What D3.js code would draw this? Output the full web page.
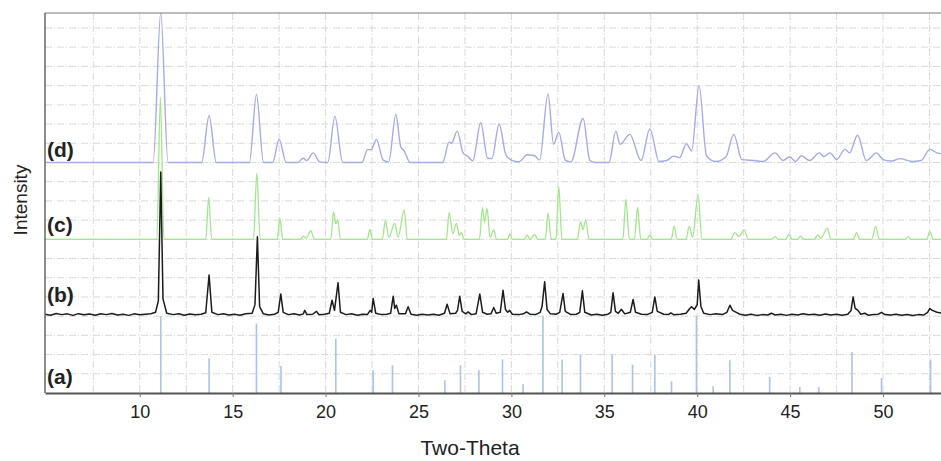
<!DOCTYPE html>
<html>
<head>
<meta charset="utf-8">
<script src="https://cdn.jsdelivr.net/npm/d3@7"></script>
<style>
  body { margin: 0; background: #fff; }
  svg { display: block; font-family: "Liberation Sans", Arial, sans-serif; }
</style>
</head>
<body>
<div id="chart"></div>
<script>
// tick labels and pattern labels
var xTicks = [10, 15, 20, 25, 30, 35, 40, 45, 50];
var patternLabels = ["(a)", "(b)", "(c)", "(d)"];
var patternOffsets = [0, 4, 8, 12];

// (a) reference stick pattern: 2-theta and relative intensity
var aPos = [11.13, 13.73, 16.28, 17.6, 20.55, 22.56, 23.6, 26.42, 27.26, 28.25, 29.52, 30.63, 31.7, 32.73,
  33.72, 35.42, 36.52, 37.72, 38.62, 39.96, 40.86, 41.76, 43.9, 45.52, 46.54, 48.33, 49.92, 52.56];
var aHeight = [4.0, 1.79, 3.61, 1.41, 2.83, 1.18, 1.44, 0.66, 1.44, 1.18, 1.74, 0.45, 4.0, 1.74,
  2.0, 2.0, 1.48, 2.0, 0.61, 4.0, 0.35, 1.7, 0.83, 0.31, 0.31, 2.13, 0.78, 1.74];

// (b) measured pattern [2-theta, intensity]
var bPoints = [[4.9,0.1],[5.2,0.05],[5.5,0.14],[5.8,0.08],[6.1,0.12],[6.4,0.04],[6.7,0.13],[7.0,0.07],[7.3,0.11],
  [7.6,0.05],[7.9,0.12],[8.2,0.08],[8.5,0.14],[8.8,0.06],[9.1,0.1],[9.4,0.04],[9.7,0.12],[10.0,0.07],[10.3,0.1],
  [10.6,0.13],[10.85,0.2],[11.0,0.8],[11.13,7.5],[11.25,0.9],[11.45,0.15],[11.8,0.08],[12.1,0.12],[12.4,0.05],
  [12.7,0.11],[13.0,0.07],[13.3,0.1],[13.55,0.18],[13.73,2.14],[13.88,0.2],[14.2,0.08],[14.5,0.12],[14.8,0.06],
  [15.1,0.1],[15.4,0.05],[15.7,0.12],[16.05,0.15],[16.2,0.6],[16.33,4.13],[16.45,0.5],[16.65,0.12],[16.95,0.06],
  [17.25,0.1],[17.45,0.2],[17.59,1.15],[17.72,0.2],[18.0,0.08],[18.3,0.12],[18.6,0.06],[18.8,0.12],[18.88,0.3],
  [19.0,0.08],[19.3,0.1],[19.51,0.25],[19.65,0.07],[19.95,0.1],[20.2,0.15],[20.35,0.83],[20.48,0.3],[20.67,1.74],
  [20.8,0.2],[21.1,0.08],[21.4,0.12],[21.7,0.05],[22.0,0.1],[22.25,0.08],[22.4,0.3],[22.48,0.2],[22.56,0.92],
  [22.7,0.15],[23.0,0.08],[23.3,0.1],[23.5,0.15],[23.64,1.04],[23.72,0.4],[23.81,0.57],[23.95,0.12],[24.3,0.12],
  [24.44,0.49],[24.6,0.1],[24.9,0.05],[25.2,0.1],[25.5,0.06],[25.8,0.1],[26.1,0.05],[26.4,0.15],[26.54,0.62],
  [26.7,0.12],[27.0,0.15],[27.1,0.3],[27.22,1.04],[27.35,0.25],[27.55,0.12],[27.67,0.22],[27.85,0.08],[28.1,0.12],
  [28.3,1.15],[28.45,0.2],[28.7,0.1],[28.9,0.12],[29.05,0.45],[29.18,0.15],[29.4,0.2],[29.55,1.35],[29.68,0.35],
  [29.8,0.2],[29.91,0.3],[30.05,0.1],[30.4,0.08],[30.65,0.12],[30.81,0.22],[31.0,0.1],[31.3,0.08],[31.55,0.2],
  [31.65,0.5],[31.79,1.79],[31.92,0.35],[32.1,0.12],[32.4,0.1],[32.6,0.2],[32.78,1.18],[32.9,0.25],[33.2,0.08],
  [33.5,0.1],[33.68,0.2],[33.82,1.32],[33.95,0.2],[34.3,0.06],[34.6,0.1],[34.9,0.05],[35.2,0.1],[35.35,0.2],
  [35.47,1.22],[35.6,0.25],[35.75,0.15],[35.92,0.36],[36.1,0.12],[36.4,0.2],[36.55,0.87],[36.68,0.2],[37.0,0.1],
  [37.3,0.08],[37.58,0.2],[37.72,1.0],[37.85,0.25],[38.2,0.1],[38.45,0.08],[38.58,0.17],[38.75,0.07],[39.1,0.1],
  [39.4,0.15],[39.6,0.4],[39.69,0.49],[39.85,0.35],[40.0,0.6],[40.08,1.88],[40.2,0.5],[40.35,0.15],[40.7,0.08],
  [41.0,0.12],[41.35,0.08],[41.6,0.2],[41.76,0.57],[41.9,0.3],[42.1,0.2],[42.3,0.1],[42.6,0.05],[42.9,0.1],
  [43.2,0.04],[43.5,0.08],[43.8,0.06],[44.0,0.15],[44.2,0.06],[44.5,0.1],[44.8,0.04],[45.1,0.1],[45.4,0.06],
  [45.7,0.13],[46.0,0.07],[46.3,0.1],[46.6,0.05],[46.9,0.11],[47.2,0.06],[47.5,0.1],[47.8,0.05],[48.1,0.1],
  [48.28,0.3],[48.39,1.0],[48.5,0.4],[48.65,0.3],[48.8,0.1],[49.02,0.15],[49.2,0.05],[49.5,0.08],[49.75,0.1],
  [49.92,0.2],[50.1,0.08],[50.4,0.06],[50.7,0.1],[51.0,0.05],[51.3,0.09],[51.6,0.04],[51.9,0.08],[52.2,0.06],
  [52.4,0.2],[52.52,0.4],[52.65,0.3],[52.9,0.2],[53.2,0.15]];

// (c) calculated pattern [2-theta, intensity]
var cPoints = [[4.9,0],[10.92,0],[11.11,7.4],[11.3,0],[13.55,0],[13.71,2.19],[13.87,0],[16.12,0],[16.3,3.44],[16.48,0],
  [17.4,0],[17.54,1.09],[17.7,0],[18.65,0],[18.8,0.17],[18.95,0.05],[19.2,0.45],[19.4,0],
  [20.28,0],[20.43,1.44],[20.55,0.8],[20.65,1.0],[20.8,0],[22.25,0],[22.38,0.52],[22.52,0],
  [23.05,0],[23.22,0.97],[23.4,0.1],[23.72,0.83],[23.9,0.1],[24.23,1.53],[24.4,0],
  [26.5,0],[26.65,1.39],[26.85,0.3],[27.04,0.83],[27.2,0.2],[27.31,0.35],[27.45,0],
  [28.28,0],[28.44,1.65],[28.56,0.9],[28.69,1.61],[28.85,0.1],[29.05,0.49],[29.2,0],[29.8,0],[29.91,0.28],[30.05,0],
  [30.7,0],[30.84,0.23],[31.0,0],[31.26,0.26],[31.4,0],[31.82,0],[31.97,1.35],[32.15,0],[32.4,0],[32.55,2.74],[32.72,0],
  [33.55,0],[33.72,0.92],[33.85,0.5],[34.0,1.0],[34.18,0],[36.0,0],[36.16,2.08],[36.35,0],[36.62,0],[36.79,1.65],[36.96,0],
  [37.3,0],[37.45,0.23],[37.6,0],[38.6,0],[38.76,0.69],[38.92,0],[39.4,0],[39.57,0.69],[39.75,0.1],[40.05,2.31],[40.25,0],
  [41.8,0],[42.03,0.35],[42.25,0.15],[42.53,0.49],[42.75,0],[44.0,0],[44.18,0.14],[44.35,0],
  [44.75,0],[44.94,0.26],[45.1,0],[45.4,0],[45.57,0.17],[45.75,0],[46.3,0],[46.48,0.23],[46.65,0.05],[47.0,0.57],[47.2,0],
  [48.4,0],[48.58,0.35],[48.75,0],[49.4,0],[49.6,0.69],[49.8,0],[51.2,0],[51.36,0.14],[51.5,0],
  [52.35,0],[52.52,0.4],[52.7,0],[53.2,0]];

// (d) pattern [2-theta, intensity]
var dPoints = [[4.9,0],[10.72,0],[11.13,7.8],[11.52,0],[13.33,0],[13.73,2.43],[14.12,0],[15.9,0],[16.28,3.54],[16.66,0],
  [17.15,0],[17.5,1.2],[17.88,0],[18.5,0],[18.8,0.22],[19.0,0.1],[19.33,0.5],[19.69,0.03],[20.12,0],[20.5,2.4],[20.92,0],
  [21.95,0],[22.27,0.68],[22.45,0.66],[22.74,1.2],[23.1,0.12],[23.4,0.03],[23.78,2.5],[24.05,0.8],[24.22,0.62],[24.55,0],
  [26.3,0],[26.65,1.06],[26.78,1.0],[27.08,1.63],[27.4,0.5],[27.65,0.32],[27.92,0.08],[28.35,2.07],[28.72,0.22],
  [28.95,0.2],[29.34,2.0],[29.7,0.4],[30.0,0.12],[30.4,0.03],[30.85,0.4],[31.25,0.35],[31.52,0.12],[31.97,3.57],
  [32.27,0.95],[32.55,1.58],[32.9,0.12],[33.2,0.02],[33.86,2.29],[34.22,0.12],[34.5,0],[35.25,0],[35.62,1.63],
  [35.85,0.95],[36.37,1.46],[36.98,0.1],[37.45,1.75],[37.95,0.05],[38.35,0.1],[38.75,0.33],[39.05,0.25],[39.42,0.97],
  [39.7,0.6],[40.1,4.0],[40.5,0.35],[41.0,0.05],[41.55,0.3],[41.97,1.46],[42.4,0.15],[43.1,0.1],[43.55,0.05],
  [44.18,0.5],[44.62,0.1],[44.98,0.3],[45.3,0.05],[45.6,0.35],[46.05,0.1],[46.57,0.5],[46.82,0.3],[47.14,0.5],
  [47.5,0.15],[47.95,0.68],[48.2,0.5],[48.63,1.42],[49.1,0.1],[49.65,0.5],[50.0,0.15],[50.45,0.08],[50.9,0.2],
  [51.6,0.05],[52.05,0.1],[52.52,0.68],[52.9,0.5],[53.2,0.45]];

var width = 941, height = 461;
var plotLeft = 45, plotTop = 13, plotBottom = 393;

var svg = d3.select("#chart").append("svg")
  .attr("width", width)
  .attr("height", height);

var x = d3.scaleLinear().domain([4.9, 53.12]).range([plotLeft, width]);
var y = d3.scaleLinear().domain([0, 19.78]).range([plotBottom, plotTop]);

svg.append("defs").append("clipPath").attr("id", "plot")
  .append("rect").attr("x", plotLeft).attr("y", plotTop)
  .attr("width", width - plotLeft).attr("height", plotBottom - plotTop);

// grid
var grid = svg.append("g").attr("stroke", "#d9d9d9").attr("stroke-width", 1)
  .attr("stroke-dasharray", "7,2,1,2");
grid.selectAll(".vg").data(d3.range(7.5, 53, 2.5)).enter().append("line")
  .attr("x1", function(d) { return x(d); }).attr("x2", function(d) { return x(d); })
  .attr("y1", plotTop).attr("y2", plotBottom);
grid.selectAll(".hg").data(d3.range(1, 20)).enter().append("line")
  .attr("x1", plotLeft).attr("x2", width)
  .attr("y1", function(d) { return y(d); }).attr("y2", function(d) { return y(d); });

var plot = svg.append("g").attr("clip-path", "url(#plot)");

// (a) sticks
plot.selectAll(".stick").data(aPos).enter().append("line")
  .attr("x1", function(d) { return x(d); }).attr("x2", function(d) { return x(d); })
  .attr("y1", y(patternOffsets[0]))
  .attr("y2", function(d, i) { return y(patternOffsets[0] + aHeight[i]); })
  .attr("stroke", "#a9c3ec").attr("stroke-width", 1.6);

function drawPattern(points, offset, color, curve, w) {
  var line = d3.line()
    .x(function(d) { return x(d[0]); })
    .y(function(d) { return y(offset + d[1]); })
    .curve(curve);
  plot.append("path").datum(points)
    .attr("d", line)
    .attr("fill", "none")
    .attr("stroke", color)
    .attr("stroke-width", w)
    .attr("stroke-linejoin", "round");
}

drawPattern(dPoints, patternOffsets[3], "#a4abe9", d3.curveMonotoneX, 1.4);
drawPattern(cPoints, patternOffsets[2], "#a2e68c", d3.curveMonotoneX, 1.3);
drawPattern(bPoints, patternOffsets[1], "#1c1c1c", d3.curveLinear, 1.5);

// frame
svg.append("line").attr("x1", plotLeft).attr("x2", width).attr("y1", plotTop).attr("y2", plotTop)
  .attr("stroke", "#7a7a7a").attr("stroke-width", 1.2);
svg.append("line").attr("x1", plotLeft).attr("x2", plotLeft).attr("y1", plotTop).attr("y2", plotBottom)
  .attr("stroke", "#666").attr("stroke-width", 1.5);

var xAxis = svg.append("g")
  .attr("transform", "translate(0," + plotBottom + ")")
  .call(d3.axisBottom(x).tickValues(xTicks).tickSize(4).tickPadding(8).tickSizeOuter(0));
xAxis.select(".domain").attr("stroke", "#555").attr("stroke-width", 2);
xAxis.selectAll(".tick line").attr("stroke", "#777");
xAxis.selectAll(".tick text").attr("font-size", 18).attr("fill", "#222")
  .attr("font-family", "Liberation Sans, Arial, sans-serif");

// pattern labels
var labelBaselines = [384, 302, 232, 157];
svg.selectAll(".plabel").data(patternLabels).enter().append("text")
  .attr("x", 47)
  .attr("y", function(d, i) { return labelBaselines[i]; })
  .attr("font-size", 21).attr("font-weight", "bold").attr("fill", "#222")
  .text(function(d) { return d; });

// axis titles
svg.append("text").attr("x", 470).attr("y", 455)
  .attr("text-anchor", "middle").attr("font-size", 21).attr("fill", "#222")
  .text("Two-Theta");
svg.append("text")
  .attr("transform", "translate(27,200) rotate(-90)")
  .attr("text-anchor", "middle").attr("font-size", 19).attr("fill", "#222")
  .text("Intensity");
</script>
</body>
</html>
